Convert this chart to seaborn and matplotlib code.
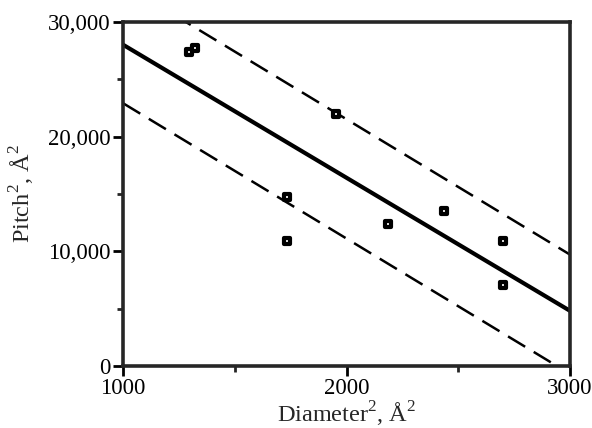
import numpy as np
import pandas as pd
import matplotlib
matplotlib.use("Agg")
import matplotlib.pyplot as plt
from matplotlib.ticker import MultipleLocator, FuncFormatter
import seaborn as sns

# measured points (Diameter^2 vs Pitch^2)
diam_sq = [1295, 1322, 1953, 1732, 1732, 2184, 2436, 2699, 2699]
pitch_sq = [27380, 27730, 21980, 14710, 10880, 12410, 13490, 10900, 7040]

# fit line and bounds (endpoints at x = 1000 and 3000)
line_x = [1000, 3000]
fit_y = [28000, 4800]
upper_y = [33300, 9700]
lower_y = [22900, -700]

sns.set_style("ticks")
plt.rcParams['font.family'] = ['Liberation Serif', 'DejaVu Serif']
plt.rcParams['mathtext.fontset'] = 'custom'
plt.rcParams['mathtext.rm'] = 'Liberation Serif'

fig, ax = plt.subplots(figsize=(5.92, 4.28), dpi=100)
fig.subplots_adjust(left=0.208, right=0.963, top=0.949, bottom=0.145)

pts = pd.DataFrame({'d': diam_sq, 'p': pitch_sq})
lines = pd.DataFrame({'x': line_x, 'fit': fit_y, 'up': upper_y, 'lo': lower_y})

sns.lineplot(data=lines, x='x', y='fit', ax=ax, color='black', lw=3)
sns.lineplot(data=lines, x='x', y='up', ax=ax, color='black', lw=1.8,
             linestyle=(0, (8, 4)))
sns.lineplot(data=lines, x='x', y='lo', ax=ax, color='black', lw=1.8,
             linestyle=(0, (8, 4)))
sns.scatterplot(data=pts, x='d', y='p', ax=ax, marker='s', s=24,
                facecolor='white', edgecolor='black', linewidth=3, zorder=5)

ax.set_xlim(1000, 3000)
ax.set_ylim(0, 30000)
ax.xaxis.set_major_locator(MultipleLocator(1000))
ax.xaxis.set_minor_locator(MultipleLocator(500))
ax.yaxis.set_major_locator(MultipleLocator(10000))
ax.yaxis.set_minor_locator(MultipleLocator(5000))
ax.yaxis.set_major_formatter(FuncFormatter(lambda v, p: f"{int(v):,}"))

for s in ax.spines.values():
    s.set_linewidth(2.6)
    s.set_visible(True)
ax.tick_params(which='major', direction='out', length=7, width=2, labelsize=16.5,
               colors='black', pad=2)
ax.tick_params(which='minor', direction='out', length=4, width=2)

ax.set_xlabel(r'Diameter$^2$, Å$^2$', fontsize=17.5, labelpad=0)
ax.set_ylabel(r'Pitch$^2$, Å$^2$', fontsize=17.5, labelpad=8)

plt.savefig('out.png', dpi=100)
